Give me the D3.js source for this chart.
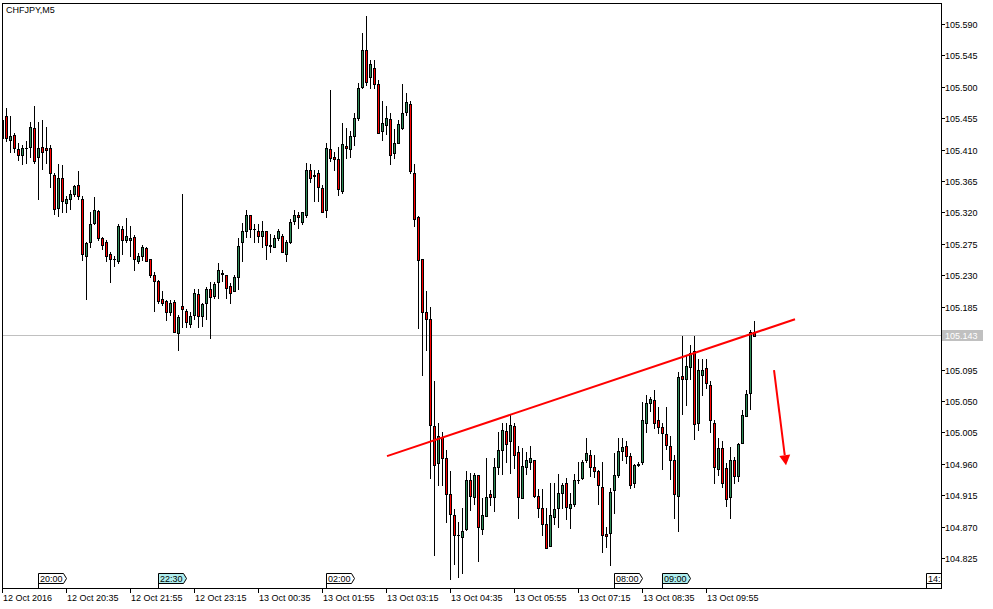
<!DOCTYPE html>
<html><head><meta charset="utf-8">
<script src="https://cdn.jsdelivr.net/npm/d3@7"></script>
<style>
html,body{margin:0;padding:0;background:#fff;}
svg{display:block;}
text{font-family:"Liberation Sans",Arial,sans-serif;font-size:9px;}
</style></head>
<body>
<svg id="chart" width="993" height="609"></svg>
<script>
const title = "CHFJPY,M5";
const opens = [105.452,105.458,105.424,105.431,105.411,105.403,105.412,105.414,105.441,105.399,105.414,105.412,105.412,105.374,105.327,105.369,105.334,105.339,105.347,105.359,
105.339,105.258,105.278,105.305,105.322,105.283,105.277,105.261,105.254,105.251,105.296,105.281,105.281,105.285,105.251,105.258,105.269,105.253,105.231,105.222,
105.196,105.193,105.177,105.192,105.147,105.186,105.179,105.160,105.173,105.203,105.171,105.191,105.210,105.200,105.220,105.234,105.231,105.215,105.207,105.227,
105.277,105.294,105.316,105.296,105.294,105.286,105.294,105.273,105.270,105.283,105.287,105.261,105.277,105.308,105.316,105.306,105.316,105.381,105.374,105.377,
105.355,105.323,105.411,105.400,105.396,105.351,105.415,105.411,105.429,105.455,105.500,105.553,105.514,105.527,105.504,105.437,105.446,105.454,105.405,105.419,
105.441,105.464,105.475,105.376,105.313,105.253,105.177,105.167,105.014,104.961,104.998,104.968,104.916,104.886,104.858,104.855,104.866,104.937,104.913,104.944,
104.867,104.885,104.917,104.913,104.955,104.980,105.007,104.992,105.014,104.977,104.911,104.955,104.963,104.966,104.914,104.896,104.873,104.842,104.884,104.896,
104.918,104.932,104.896,104.903,104.937,104.939,104.965,104.973,104.956,104.950,104.926,104.860,104.861,104.922,104.944,104.978,104.985,104.971,104.932,104.958,
104.962,105.019,105.047,105.052,105.023,105.012,105.002,104.986,104.966,104.914,105.086,105.082,105.099,105.121,105.019,105.087,105.097,105.073,105.019,104.952,
104.982,104.954,104.912,104.966,104.943,104.990,105.029,105.062,105.149];
const highs = [105.457,105.469,105.458,105.434,105.420,105.417,105.422,105.450,105.473,105.449,105.452,105.442,105.417,105.377,105.390,105.388,105.344,105.352,105.360,105.380,
105.344,105.278,105.321,105.342,105.324,105.285,105.280,105.263,105.258,105.304,105.301,105.312,105.301,105.288,105.262,105.274,105.271,105.253,105.235,105.223,
105.207,105.195,105.195,105.194,105.173,105.347,105.181,105.178,105.210,105.210,105.191,105.213,105.220,105.221,105.247,105.238,105.231,105.219,105.230,105.283,
105.305,105.324,105.316,105.304,105.303,105.308,105.294,105.289,105.288,105.296,105.289,105.281,105.310,105.324,105.321,105.321,105.391,105.390,105.381,105.381,
105.359,105.420,105.496,105.407,105.414,105.448,105.441,105.436,105.462,105.505,105.577,105.601,105.538,105.538,105.510,105.480,105.472,105.463,105.439,105.453,
105.504,105.491,105.479,105.390,105.315,105.253,105.207,105.185,105.078,105.018,105.005,104.980,104.950,104.895,104.877,104.896,104.950,104.947,104.947,104.944,
104.911,104.968,104.923,104.968,105.006,105.019,105.018,105.030,105.018,104.985,104.982,104.977,104.986,104.966,104.924,104.924,104.896,104.932,104.932,104.946,
104.933,104.939,104.918,104.945,104.963,104.966,104.997,104.980,104.973,104.951,104.962,104.870,104.925,104.976,104.997,104.997,104.992,104.976,104.960,104.962,
105.049,105.059,105.055,105.065,105.042,105.018,105.041,105.000,104.973,105.091,105.143,105.114,105.130,105.143,105.110,105.110,105.110,105.078,105.023,104.997,
104.992,104.961,104.984,104.969,104.990,105.037,105.065,105.152,105.164];
const lows = [105.419,105.422,105.407,105.407,105.395,105.390,105.391,105.400,105.391,105.339,105.382,105.391,105.357,105.318,105.315,105.321,105.320,105.325,105.343,105.340,
105.252,105.196,105.271,105.304,105.281,105.267,105.250,105.220,105.244,105.247,105.261,105.277,105.257,105.238,105.247,105.252,105.251,105.228,105.179,105.190,
105.188,105.166,105.173,105.149,105.123,105.156,105.156,105.156,105.167,105.156,105.157,105.167,105.140,105.197,105.197,105.222,105.197,105.191,105.207,105.211,
105.251,105.285,105.285,105.278,105.278,105.270,105.253,105.263,105.270,105.280,105.263,105.251,105.276,105.304,105.298,105.304,105.314,105.364,105.337,105.337,
105.321,105.313,105.394,105.381,105.345,105.348,105.398,105.399,105.417,105.453,105.499,105.503,105.499,105.499,105.434,105.424,105.433,105.390,105.398,105.419,
105.439,105.460,105.377,105.300,105.154,105.087,105.123,104.939,104.829,104.930,104.930,104.876,104.795,104.817,104.798,104.804,104.865,104.894,104.903,104.820,
104.860,104.885,104.901,104.893,104.945,104.946,104.962,104.947,104.954,104.882,104.911,104.946,104.952,104.913,104.884,104.858,104.840,104.842,104.873,104.870,
104.896,104.881,104.868,104.900,104.932,104.938,104.963,104.942,104.941,104.902,104.834,104.841,104.815,104.890,104.941,104.965,104.961,104.925,104.927,104.957,
104.960,105.005,105.036,105.011,105.004,104.952,104.981,104.938,104.883,104.863,105.031,105.044,105.082,104.995,105.008,105.059,105.068,105.006,104.933,104.944,
104.927,104.899,104.882,104.933,104.936,104.990,105.029,105.039,105.143];
const closes = [105.426,105.426,105.430,105.412,105.402,105.412,105.412,105.442,105.394,105.412,105.407,105.409,105.376,105.325,105.369,105.336,105.339,105.347,105.358,105.343,
105.260,105.276,105.304,105.324,105.284,105.273,105.257,105.254,105.254,105.301,105.280,105.286,105.283,105.253,105.258,105.271,105.251,105.230,105.222,105.193,
105.191,105.177,105.191,105.149,105.170,105.181,105.163,105.172,105.204,105.171,105.189,105.210,105.199,105.218,105.238,105.232,105.212,105.205,105.227,105.272,
105.294,105.316,105.296,105.296,105.286,105.294,105.273,105.272,105.284,105.294,105.263,105.278,105.306,105.316,105.313,105.320,105.381,105.369,105.372,105.356,
105.321,105.412,105.398,105.396,105.353,105.418,105.412,105.429,105.455,105.499,105.553,105.507,105.533,105.504,105.434,105.448,105.455,105.402,105.420,105.447,
105.463,105.478,105.379,105.310,105.252,105.177,105.168,105.015,104.958,105.000,104.968,104.916,104.888,104.858,104.858,104.863,104.937,104.914,104.944,104.869,
104.886,104.913,104.913,104.955,104.980,105.009,104.989,105.016,104.973,104.913,104.957,104.966,104.968,104.914,104.896,104.873,104.840,104.887,104.895,104.918,
104.930,104.898,104.903,104.937,104.937,104.962,104.976,104.956,104.949,104.929,104.858,104.857,104.920,104.944,104.979,104.984,104.971,104.929,104.958,104.959,
105.023,105.047,105.053,105.019,105.012,105.004,104.987,104.966,104.916,105.084,105.081,105.100,105.119,105.017,105.095,105.095,105.075,105.023,104.956,104.983,
104.932,104.909,104.966,104.943,104.989,105.030,105.060,105.149,105.143];

const priceTicks = ["105.590","105.545","105.500","105.455","105.410","105.365","105.320","105.275","105.230","105.185","105.095","105.050","105.005","104.960","104.915","104.870","104.825"];
const currentPrice = 105.143;
const timeTickBars = [0,16,32,48,64,80,96,112,128,144,160,176];
const timeTickLabels = ["12 Oct 2016","12 Oct 20:35","12 Oct 21:55","12 Oct 23:15","13 Oct 00:35","13 Oct 01:55","13 Oct 03:15","13 Oct 04:35","13 Oct 05:55","13 Oct 07:15","13 Oct 08:35","13 Oct 09:55"];
const sepBars = [9,39,81,153,165,231];
const sepLabels = ["20:00","22:30","02:00","08:00","09:00","14:30"];
const sepHighlight = [false,true,false,false,true,false];
const trendBars = [96.25,198.25];
const trendPrices = [104.971,105.167];
const arrowBars = [193,196];
const arrowPrices = [105.094,104.958];

const svg = d3.select("#chart");
const L = 2, R = 941, T = 3, B = 588;
const x = d3.scaleLinear().domain([0,1]).range([2,6]);
const y = d3.scaleLinear().domain([104.825,105.590]).range([558,24]);

svg.append("defs").append("clipPath").attr("id","plot")
  .append("rect").attr("x",L+1).attr("y",T+1).attr("width",R-L-1).attr("height",B-T-1);

const plot = svg.append("g").attr("clip-path","url(#plot)");

// current price line
plot.append("line").attr("x1",L).attr("x2",R).attr("y1",Math.round(y(currentPrice))-0.5).attr("y2",Math.round(y(currentPrice))-0.5)
  .attr("stroke","#c0c0c0").attr("stroke-width",1).attr("shape-rendering","crispEdges");

const data = opens.map((o,i)=>({i,o,h:highs[i],l:lows[i],c:closes[i]}));
const g = plot.append("g").attr("shape-rendering","crispEdges");
data.forEach(d=>{
  const px = Math.round(x(d.i));
  g.append("line").attr("x1",px+0.5).attr("x2",px+0.5)
    .attr("y1",Math.round(y(d.h))).attr("y2",Math.round(y(d.l))+1)
    .attr("stroke","#000").attr("stroke-width",1);
  const top = Math.round(y(Math.max(d.o,d.c)));
  const bot = Math.round(y(Math.min(d.o,d.c)));
  if (bot - top < 1) {
    g.append("line").attr("x1",px-1).attr("x2",px+2).attr("y1",top+0.5).attr("y2",top+0.5)
      .attr("stroke","#000").attr("stroke-width",1);
  } else {
    g.append("rect").attr("x",px-0.5).attr("y",top+0.5).attr("width",2).attr("height",bot-top)
      .attr("fill", d.c>=d.o ? "#2e8b57" : "#ff0000").attr("stroke","#000").attr("stroke-width",1);
  }
});

// trend line
plot.append("line")
  .attr("x1",x(trendBars[0])).attr("y1",y(trendPrices[0]))
  .attr("x2",x(trendBars[1])).attr("y2",y(trendPrices[1]))
  .attr("stroke","#ff0000").attr("stroke-width",2);

// arrow
{
  const x1=x(arrowBars[0]), y1=y(arrowPrices[0]), x2=x(arrowBars[1]), y2=y(arrowPrices[1]);
  const dx=x2-x1, dy=y2-y1, len=Math.hypot(dx,dy), ux=dx/len, uy=dy/len;
  const hl=10, hw=5.5;
  const bx=x2-ux*hl, by=y2-uy*hl;
  plot.append("line").attr("x1",x1).attr("y1",y1).attr("x2",bx).attr("y2",by)
    .attr("stroke","#ff0000").attr("stroke-width",2);
  plot.append("path").attr("d",`M${x2},${y2}L${bx-uy*hw},${by+ux*hw}L${bx+uy*hw},${by-ux*hw}Z`)
    .attr("fill","#ff0000");
}

// frame
const fr = svg.append("g").attr("shape-rendering","crispEdges").attr("stroke","#000").attr("stroke-width",1);
fr.append("line").attr("x1",L+0.5).attr("x2",L+0.5).attr("y1",T).attr("y2",B+5);
fr.append("line").attr("x1",L).attr("x2",R+1).attr("y1",T+0.5).attr("y2",T+0.5);
fr.append("line").attr("x1",R+0.5).attr("x2",R+0.5).attr("y1",T).attr("y2",B+1);
fr.append("line").attr("x1",L).attr("x2",R+1).attr("y1",B+0.5).attr("y2",B+0.5);

// title
svg.append("text").attr("x",6).attr("y",13).text(title);

// price axis
const pa = svg.append("g");
priceTicks.forEach(t=>{
  const yy = Math.round(y(+t));
  pa.append("line").attr("x1",R+1).attr("x2",R+4).attr("y1",yy+0.5).attr("y2",yy+0.5)
    .attr("stroke","#000").attr("shape-rendering","crispEdges");
  pa.append("text").attr("x",R+4).attr("y",yy+3.8).text(t);
});
{
  const yy = Math.round(y(currentPrice));
  pa.append("rect").attr("x",R+1).attr("y",yy-6).attr("width",41).attr("height",11).attr("fill","#c0c0c0");
  pa.append("text").attr("x",R+4).attr("y",yy+3.3).attr("fill","#fff").text(currentPrice.toFixed(3));
}

// time axis
const ta = svg.append("g");
timeTickBars.forEach((b,k)=>{
  const px = Math.round(x(b));
  ta.append("line").attr("x1",px+0.5).attr("x2",px+0.5).attr("y1",B).attr("y2",B+5)
    .attr("stroke","#000").attr("shape-rendering","crispEdges");
  ta.append("text").attr("x",px+1).attr("y",600.5).text(timeTickLabels[k]);
});

// separator labels
const sg = svg.append("g").attr("clip-path","url(#sepclip)");
svg.select("defs").append("clipPath").attr("id","sepclip").append("rect").attr("x",0).attr("y",0).attr("width",R).attr("height",609);
sepBars.forEach((b,k)=>{
  const px = Math.round(x(b));
  sg.append("path").attr("d",`M${px+0.5},573.5H${px+25.5}L${px+28.5},578.5L${px+25.5},583.5H${px+0.5}Z`)
    .attr("fill", sepHighlight[k] ? "#afeeee" : "#fff").attr("stroke","#000").attr("stroke-width",1);
  sg.append("line").attr("x1",px+0.5).attr("x2",px+0.5).attr("y1",583).attr("y2",B)
    .attr("stroke","#000").attr("shape-rendering","crispEdges");
  sg.append("text").attr("x",px+2).attr("y",582).text(sepLabels[k]);
});
</script>
</body></html>
